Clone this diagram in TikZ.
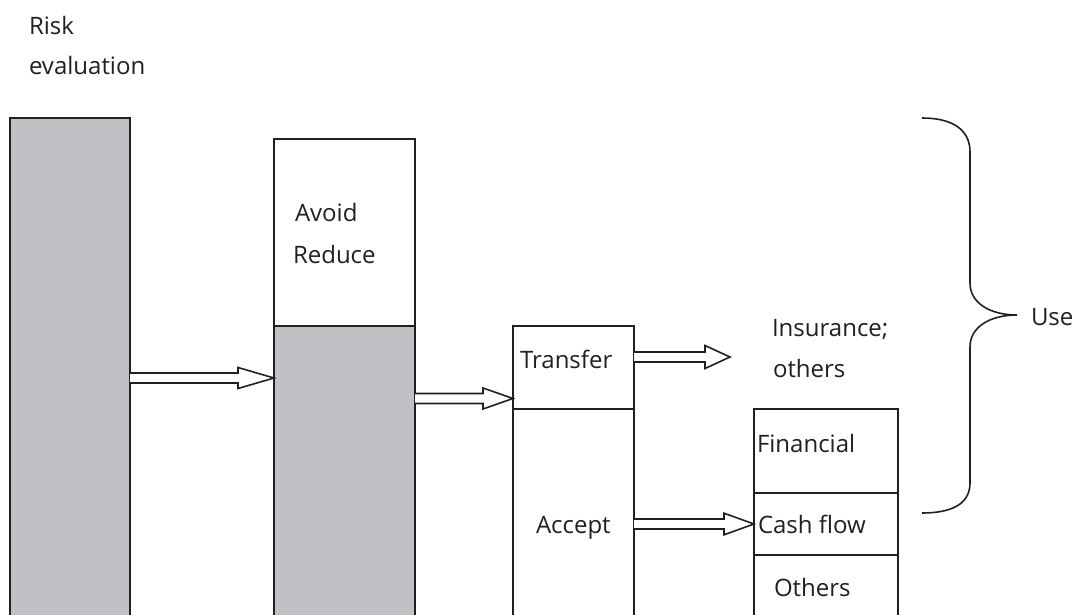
\documentclass[tikz,border=0pt]{standalone}
\usepackage{fontspec}
\setmainfont{Open Sans}
\usetikzlibrary{calc}
\definecolor{ink}{RGB}{35,31,32}
\definecolor{boxgray}{RGB}{192,193,196}
\newcommand\fatarrow[4]{%
  \draw[fatarr] ($(#1)+(0,-5)$) -- ($(#2)+(-#3,-5)$) -- ($(#2)+(-#3,-#4)$) -- (#2)
    -- ($(#2)+(-#3,#4)$) -- ($(#2)+(-#3,5)$) -- ($(#1)+(0,5)$);}
\begin{document}
\begin{tikzpicture}[x=1pt,y=-1pt,
  box/.style={draw=ink,line width=1.8pt,rectangle,inner sep=0pt,outer sep=0pt,anchor=north west},
  txt/.style={anchor=base west,inner sep=0pt,outer sep=0pt,text=ink,font=\fontsize{24}{28}\selectfont},
  fatarr/.style={draw=ink,fill=white,line width=1.6pt,line join=miter},
  bracestyle/.style={draw=ink,line width=1.6pt}]
\clip (0,0) rectangle (1085,615);
\fill[white] (0,0) rectangle (1085,615);
% boxes
\node[box,fill=boxgray,minimum width=120pt,minimum height=520pt] (eval) at (10,118) {};
\node[box,fill=white,minimum width=141pt,minimum height=187pt] (avoid) at (274,139) {};
\node[box,fill=boxgray,minimum width=141pt,minimum height=310pt] (rest) at (274,326) {};
\node[box,fill=white,minimum width=121pt,minimum height=83pt] (transfer) at (513,326) {};
\node[box,fill=white,minimum width=121pt,minimum height=230pt] (accept) at (513,409) {};
\node[box,fill=white,minimum width=144pt,minimum height=84pt] (fin) at (754,409) {};
\node[box,fill=white,minimum width=144pt,minimum height=62pt] (cash) at (754,493) {};
\node[box,fill=white,minimum width=144pt,minimum height=80pt] (oth) at (754,555) {};
% texts
\node[txt] (risk) at (29,34.5) {Risk};
\node[txt] (evaltxt) at (29,75) {evaluation};
\node[txt] (avoidtxt) at (295,222) {Avoid};
\node[txt] (reducetxt) at (293,263) {Reduce};
\node[txt] (transfertxt) at (520,368) {Transfer};
\node[txt] (accepttxt) at (536,533) {Accept};
\node[txt] (instxt) at (772,336) {Insurance;};
\node[txt] (otherstxt) at (773,377) {others};
\node[txt] (fintxt) at (757,452) {Financial};
\node[txt] (cashtxt) at (758,533) {Cash flow};
\node[txt] (othtxt) at (774,596) {Others};
\node[txt] (usetxt) at (1031,325) {Use};
% arrows
\coordinate (insend) at ($(transfer.north east)+(96,31)$);
\fatarrow{$(eval.north east)+(0,260)$}{$(rest.north west)+(0,52)$}{36}{10.5}
\fatarrow{$(rest.north east)+(0,72.5)$}{$(transfer.south west)+(0,-10.5)$}{30}{10.5}
\fatarrow{$(transfer.north east)+(0,31)$}{insend}{25}{11.5}
\fatarrow{$(accept.north east)+(0,115)$}{cash.west}{30}{10.8}
% brace
\draw[bracestyle] (922,118) .. controls (950,118) and (970,128) .. (970,152)
  -- (970,283) .. controls (970,303) and (990,315) .. (1017,315)
  .. controls (990,315) and (970,327) .. (970,347)
  -- (970,483) .. controls (970,505) and (950,513) .. (922,513);
\end{tikzpicture}
\end{document}
